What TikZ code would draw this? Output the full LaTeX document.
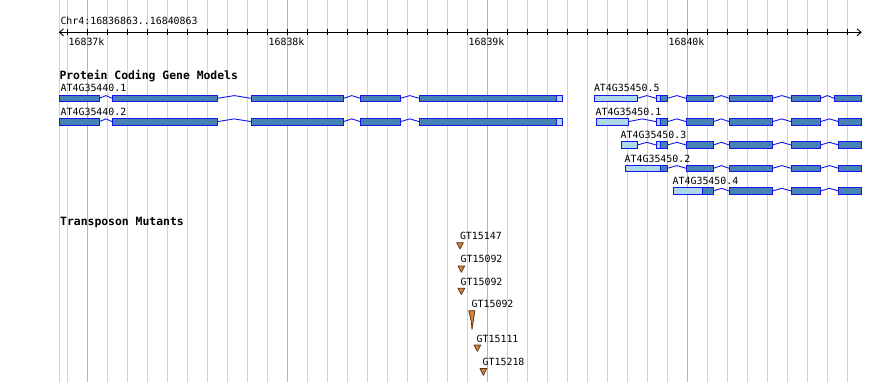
\documentclass[tikz,border=0pt]{standalone}
\usepackage{fontspec}
\newfontfamily\gbmono{DejaVu Sans Mono}
\newfontfamily\gbmonob{DejaVu Sans Mono Bold}
\definecolor{gridminor}{RGB}{165,228,232}
\definecolor{gridmajor}{RGB}{140,192,228}
\definecolor{cdsfill}{RGB}{70,130,180}
\definecolor{utrfill}{RGB}{173,216,230}
\definecolor{gbborder}{RGB}{20,20,235}
\definecolor{tpfill}{RGB}{205,133,63}
\definecolor{tpborder}{RGB}{90,45,10}
\tikzset{
  gridline/.style={gridminor,line width=1pt},
  gridmaj/.style={gridmajor,line width=1pt},
  lbl/.style={font=\gbmono\fontsize{9.9}{10}\selectfont,anchor=base west,inner sep=0pt,outer sep=0pt},
  ticklbl/.style={font=\gbmono\fontsize{9.9}{10}\selectfont,anchor=base,inner sep=0pt},
  hdr/.style={font=\gbmonob\fontsize{11.4}{12}\selectfont,anchor=base west,inner sep=0pt},
  cds/.style={fill=cdsfill,draw=gbborder,line width=0.9pt},
  utr/.style={fill=utrfill,draw=gbborder,line width=0.9pt},
  intronline/.style={gbborder,line width=0.9pt},
  tp/.style={fill=tpfill,draw=tpborder,line width=0.7pt,line join=round},
  axis/.style={black,line width=0.9pt},
}
\newcommand{\gbcds}[3]{\draw[cds] (#1,#3) rectangle (#2,#3+6.7);}
\newcommand{\gbutr}[3]{\draw[utr] (#1,#3) rectangle (#2,#3+6.7);}
\newcommand{\gbintron}[3]{\draw[intronline] (#1,#3+3.35) -- ({(#1+#2)/2},#3+0.6) -- (#2,#3+3.35);}
\newcommand{\gbtri}[3]{\draw[tp] (#1,#2) -- (#1+6.7,#2) -- (#1+3.35,#3) -- cycle;}
\begin{document}
\begin{tikzpicture}[x=1pt,y=-1pt]
\useasboundingbox[fill=white] (0,0) rectangle (890,382);
% grid
\draw[gridline] (59.3,0) -- (59.3,382);
\foreach \k in {0,...,39} {
  \pgfmathsetmacro{\xx}{67.3+20*\k}
  \draw[gridline] (\xx,0) -- (\xx,382);
}
\foreach \xx in {87.3,287.3,487.3,687.3} {
  \draw[gridmaj] (\xx,0) -- (\xx,382);
}
% ruler
\node[lbl] (title) at (60.5,25) {Chr4:16836863..16840863};
\coordinate (rL) at (59.5,32.3);
\coordinate (rR) at (861,32.3);
\draw[axis] (rL) -- (rR);
\draw[axis] (63.5,28.8) -- (rL) -- (63.5,35.8);
\draw[axis] (857,28.8) -- (rR) -- (857,35.8);
\foreach \k in {0,...,39} {
  \pgfmathsetmacro{\xx}{67.3+20*\k}
  \draw[axis] (\xx,29) -- (\xx,35.5);
}
\node[ticklbl] (t1) at (86.5,46) {16837k};
\node[ticklbl] (t2) at (286.5,46) {16838k};
\node[ticklbl] (t3) at (486.5,46) {16839k};
\node[ticklbl] (t4) at (686.5,46) {16840k};
% gene models
\node[hdr] (pcg) at (59.3,79.5) {Protein Coding Gene Models};
\foreach \ty/\lab in {95/AT4G35440.1, 118.3/AT4G35440.2} {
  \node[lbl] at (60.7,\ty-3) {\lab};
  \gbcds{59.3}{99.3}{\ty}
  \gbintron{99.3}{112.3}{\ty}
  \gbcds{112.3}{217.3}{\ty}
  \gbintron{217.3}{251.3}{\ty}
  \gbcds{251.3}{343.3}{\ty}
  \gbintron{343.3}{360.3}{\ty}
  \gbcds{360.3}{400.3}{\ty}
  \gbintron{400.3}{419.3}{\ty}
  \gbcds{419.3}{556.7}{\ty}
  \gbutr{556.7}{562.3}{\ty}
}
% shared tail for AT4G35450 models
\newcommand{\gbtail}[2]{%
  \gbintron{667.3}{686.3}{#1}
  \gbcds{686.3}{713.3}{#1}
  \gbintron{713.3}{729.3}{#1}
  \gbcds{729.3}{772.3}{#1}
  \gbintron{772.3}{791.3}{#1}
  \gbcds{791.3}{820.3}{#1}
  \gbintron{820.3}{#2}{#1}
  \gbcds{#2}{861.7}{#1}
}
% .5
\node[lbl] (g5) at (594,92) {AT4G35450.5};
\gbutr{594}{637.3}{95}
\gbintron{637.3}{656.3}{95}
\gbutr{656.3}{660.7}{95}
\gbcds{660.7}{667.3}{95}
\gbtail{95}{834.3}
% .1
\node[lbl] (g1) at (595.7,115.3) {AT4G35450.1};
\gbutr{596.3}{628.3}{118.3}
\gbintron{628.3}{656.3}{118.3}
\gbutr{656.3}{660.7}{118.3}
\gbcds{660.7}{667.3}{118.3}
\gbtail{118.3}{838.7}
% .3
\node[lbl] (g3) at (620.7,138.7) {AT4G35450.3};
\gbutr{621.3}{637.3}{141.7}
\gbintron{637.3}{656.3}{141.7}
\gbutr{656.3}{660.7}{141.7}
\gbcds{660.7}{667.3}{141.7}
\gbtail{141.7}{838.7}
% .2
\node[lbl] (g2) at (624.7,162) {AT4G35450.2};
\gbutr{625.3}{660.7}{165}
\gbcds{660.7}{667.3}{165}
\gbtail{165}{838.7}
% .4
\node[lbl] (g4) at (672.7,184.7) {AT4G35450.4};
\gbutr{673.3}{702.7}{187.7}
\gbcds{702.7}{713.3}{187.7}
\gbintron{713.3}{729.3}{187.7}
\gbcds{729.3}{772.3}{187.7}
\gbintron{772.3}{791.3}{187.7}
\gbcds{791.3}{820.3}{187.7}
\gbintron{820.3}{838.7}{187.7}
\gbcds{838.7}{861.7}{187.7}
% transposons
\node[hdr] (tm) at (60,225.5) {Transposon Mutants};
\node[lbl] (m1) at (460,239) {GT15147};
\gbtri{456.7}{242.7}{249}
\node[lbl] (m2) at (460.7,262) {GT15092};
\gbtri{458}{266}{272.3}
\node[lbl] (m3) at (460.7,285) {GT15092};
\gbtri{458}{288.3}{294.6}
\node[lbl] (m4) at (471.7,307) {GT15092};
\draw[tp] (468.7,310.7) -- (474.9,310.7) -- (473.3,321) -- (472,329.5) -- (471.2,321) -- cycle;
\node[lbl] (m5) at (476.7,342) {GT15111};
\gbtri{474}{345}{351.3}
\node[lbl] (m6) at (482.7,365.5) {GT15218};
\gbtri{480}{368.5}{375.3}
\end{tikzpicture}
\end{document}
